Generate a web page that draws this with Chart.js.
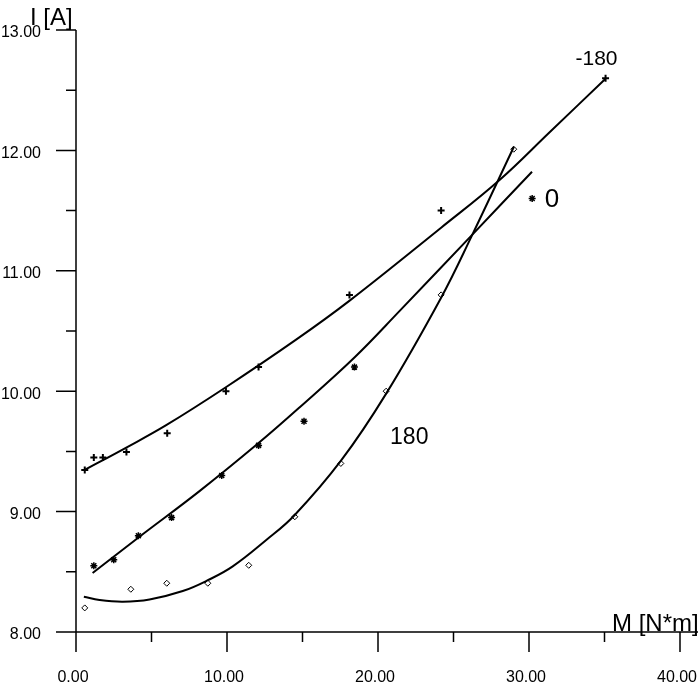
<!DOCTYPE html>
<html>
<head>
<meta charset="utf-8">
<script src="https://cdn.jsdelivr.net/npm/chart.js@4.4.1/dist/chart.umd.min.js"></script>
<style>
html, body { margin: 0; padding: 0; background: #fff; }
#wrap { width: 698px; height: 688px; }
</style>
</head>
<body>
<div id="wrap"><canvas id="chart" width="698" height="688"></canvas></div>
<script>
// measured points, torque M [N*m] vs current I [A]
var ptsMinus180X = [0.58, 1.18, 1.78, 3.34, 6.04, 9.93, 12.09, 18.11, 24.18, 35.07];
var ptsMinus180Y = [9.345, 9.45, 9.45, 9.495, 9.65, 10.0, 10.2, 10.8, 11.5, 12.6];
var ptsZeroX = [1.18, 2.5, 4.13, 6.33, 9.65, 12.09, 15.1, 18.44, 30.21];
var ptsZeroY = [8.55, 8.6, 8.8, 8.95, 9.3, 9.55, 9.75, 10.2, 11.6];
var pts180X = [0.58, 3.63, 6.01, 8.73, 11.44, 14.49, 17.54, 20.54, 24.18, 28.99];
var pts180Y = [8.2, 8.355, 8.405, 8.405, 8.554, 8.957, 9.4, 10.0, 10.8, 12.01];

// fitted curves
var fitMinus180X = [0.55, 3.3, 6.0, 9.95, 14.6, 18.1, 24.2, 28.05, 31.4, 35.05];
var fitMinus180Y = [9.345, 9.53, 9.72, 10.035, 10.43, 10.75, 11.36, 11.754, 12.155, 12.593];
var fitZeroX = [1.1, 4.14, 8.18, 12.05, 14.8, 18.44, 21.42, 26.17, 30.2];
var fitZeroY = [8.49, 8.785, 9.17, 9.565, 9.865, 10.28, 10.665, 11.29, 11.823];
var fit180X = [0.52, 1.56, 3.1, 4.87, 7.07, 8.73, 10.38, 12.6, 14.47, 17.56, 20.54, 24.18, 26.17, 29.0];
var fit180Y = [8.293, 8.266, 8.252, 8.27, 8.34, 8.43, 8.545, 8.764, 8.97, 9.425, 9.98, 10.777, 11.28, 12.03];

// curve names and where they sit
var curveNames = ['-180', '0', '180'];
var curveNameX = [34.47, 31.52, 22.07];
var curveNameY = [12.755, 11.588, 9.615];

var xMin = 0, xMax = 40, xStep = 5;
var yMin = 8, yMax = 13, yStep = 0.5;
var xTitle = 'M [N*m]';
var yTitle = 'I [A]';

var FONT = "'Liberation Sans', Arial, sans-serif";

function toXY(xs, ys) {
    var out = [];
    for (let i = 0; i < xs.length; i++) out.push({x: xs[i], y: ys[i]});
    return out;
}

function curve(xs, ys) {
    return {
        data: toXY(xs, ys),
        showLine: true,
        borderColor: '#000',
        borderWidth: 2,
        pointRadius: 0,
        tension: 0.4
    };
}

var axesPlugin = {
    id: 'axesPlugin',
    afterDraw: function (chart) {
        var ctx = chart.ctx, a = chart.chartArea;
        var xs = chart.scales.x, ys = chart.scales.y;
        ctx.save();
        ctx.strokeStyle = '#000';
        ctx.lineWidth = 1.5;
        ctx.beginPath();
        ctx.moveTo(a.left - 20, a.bottom);
        ctx.lineTo(chart.width, a.bottom);
        ctx.moveTo(a.left, a.top);
        ctx.lineTo(a.left, a.bottom + 20);
        xs.ticks.forEach(function (t) {
            var px = xs.getPixelForValue(t.value);
            var len = (t.value % 10 === 0) ? 20 : 10;
            ctx.moveTo(px, a.bottom);
            ctx.lineTo(px, a.bottom + len);
        });
        ys.ticks.forEach(function (t) {
            var py = ys.getPixelForValue(t.value);
            var len = Number.isInteger(t.value) ? 20 : 10;
            ctx.moveTo(a.left - len, py);
            ctx.lineTo(a.left, py);
        });
        ctx.stroke();

        ctx.fillStyle = '#000';
        ctx.textBaseline = 'alphabetic';
        ctx.textAlign = 'left';
        ctx.font = '24px ' + FONT;
        ctx.fillText(yTitle, a.left - 46, a.top - 5);
        ctx.fillText(xTitle, a.right - 68, a.bottom - 1);

        var sizes = [21, 26, 23];
        ctx.textAlign = 'center';
        ctx.textBaseline = 'middle';
        for (let i = 0; i < curveNames.length; i++) {
            ctx.font = sizes[i] + 'px ' + FONT;
            ctx.fillText(curveNames[i], xs.getPixelForValue(curveNameX[i]), ys.getPixelForValue(curveNameY[i]));
        }
        ctx.restore();
    }
};

var ctx = document.getElementById('chart').getContext('2d');
var chart = new Chart(ctx, {
    type: 'scatter',
    data: {
        datasets: [
            curve(fitMinus180X, fitMinus180Y),
            curve(fitZeroX, fitZeroY),
            curve(fit180X, fit180Y),
            {
                data: toXY(ptsMinus180X, ptsMinus180Y),
                pointStyle: 'cross',
                pointRadius: 3.5,
                borderWidth: 2,
                borderColor: '#000',
                backgroundColor: '#000'
            },
            {
                data: toXY(ptsZeroX, ptsZeroY),
                pointStyle: 'star',
                pointRadius: 3.5,
                borderWidth: 1.5,
                borderColor: '#000',
                backgroundColor: '#000'
            },
            {
                data: toXY(pts180X, pts180Y),
                pointStyle: 'rectRot',
                pointRadius: 3,
                borderWidth: 1,
                borderColor: '#000',
                backgroundColor: '#fff'
            }
        ]
    },
    options: {
        responsive: false,
        animation: false,
        layout: { padding: { top: 30, right: 18, left: 0, bottom: 0 } },
        plugins: { legend: { display: false }, tooltip: { enabled: false } },
        scales: {
            x: {
                type: 'linear',
                min: xMin, max: xMax,
                grid: { display: false, drawTicks: false },
                border: { display: false },
                ticks: {
                    stepSize: xStep,
                    autoSkip: false,
                    maxRotation: 0,
                    padding: 36,
                    labelOffset: -3,
                    color: '#000',
                    font: { family: FONT, size: 16 },
                    callback: function (v) { return v % 10 === 0 ? v.toFixed(2) : ''; }
                },
                afterFit: function (s) { s.height = 56; s.paddingLeft = 0; s.paddingRight = 0; }
            },
            y: {
                type: 'linear',
                min: yMin, max: yMax,
                grid: { display: false, drawTicks: false },
                border: { display: false },
                ticks: {
                    stepSize: yStep,
                    autoSkip: false,
                    padding: 35,
                    labelOffset: 3,
                    color: '#000',
                    font: { family: FONT, size: 16 },
                    callback: function (v) { return Number.isInteger(v) ? v.toFixed(2) : ''; }
                },
                afterFit: function (s) { s.width = 76; s.paddingTop = 0; s.paddingBottom = 0; }
            }
        }
    },
    plugins: [axesPlugin]
});
</script>
</body>
</html>
